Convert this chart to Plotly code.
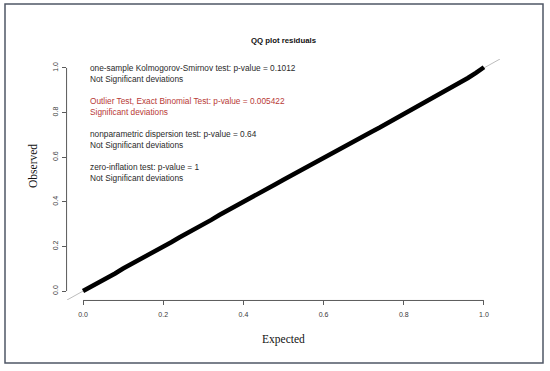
import plotly.graph_objects as go

# Data
expected = [0.00, 0.02, 0.04, 0.06, 0.08, 0.10, 0.12, 0.14, 0.16, 0.18,
            0.20, 0.22, 0.24, 0.26, 0.28, 0.30, 0.32, 0.34, 0.36, 0.38,
            0.40, 0.42, 0.44, 0.46, 0.48, 0.50, 0.52, 0.54, 0.56, 0.58,
            0.60, 0.62, 0.64, 0.66, 0.68, 0.70, 0.72, 0.74, 0.76, 0.78,
            0.80, 0.82, 0.84, 0.86, 0.88, 0.90, 0.92, 0.94, 0.96, 0.98, 1.00]
observed = [0.000, 0.019, 0.041, 0.060, 0.079, 0.101, 0.120, 0.139, 0.160, 0.181,
            0.200, 0.219, 0.240, 0.259, 0.281, 0.300, 0.319, 0.341, 0.360, 0.379,
            0.399, 0.420, 0.439, 0.458, 0.479, 0.499, 0.519, 0.538, 0.557, 0.577,
            0.596, 0.616, 0.635, 0.655, 0.674, 0.694, 0.714, 0.733, 0.753, 0.773,
            0.792, 0.812, 0.832, 0.852, 0.872, 0.892, 0.913, 0.933, 0.955, 0.978, 1.003]
ref_line = [-0.04, 1.04]
tick_vals = [0.0, 0.2, 0.4, 0.6, 0.8, 1.0]
tick_text = ["0.0", "0.2", "0.4", "0.6", "0.8", "1.0"]

test_lines = [
    ("one-sample Kolmogorov-Smirnov test: p-value = 0.1012", "#2a2a2a"),
    ("Not Significant deviations", "#2a2a2a"),
    ("Outlier Test, Exact Binomial Test: p-value = 0.005422", "#b83a36"),
    ("Significant deviations", "#b83a36"),
    ("nonparametric dispersion test: p-value = 0.64", "#2a2a2a"),
    ("Not Significant deviations", "#2a2a2a"),
    ("zero-inflation test: p-value = 1", "#2a2a2a"),
    ("Not Significant deviations", "#2a2a2a"),
]
text_y_px = [68, 79, 101, 112, 134, 145, 167, 178]

AX_MIN, AX_MAX = -0.04, 1.04
W, H = 550, 371
L, R, T, B = 67, 50, 59, 71
pw, ph = W - L - R, H - T - B

def px_x(x):
    return (x - L) / pw

def px_y(y):
    return (H - B - y) / ph

def frac(v):
    return (v - AX_MIN) / (AX_MAX - AX_MIN)

fig = go.Figure()
fig.add_trace(go.Scatter(x=ref_line, y=ref_line, mode="lines",
                         line=dict(color="#bdbdbd", width=1), hoverinfo="skip"))
fig.add_trace(go.Scatter(x=expected, y=observed, mode="lines",
                         line=dict(color="#000000", width=4.5), hoverinfo="skip"))

annotations = []
for (txt, col), ypx in zip(test_lines, text_y_px):
    annotations.append(dict(text=txt, x=px_x(88), y=px_y(ypx), xref="paper", yref="paper",
                            xanchor="left", yanchor="middle", showarrow=False,
                            font=dict(family="Liberation Sans", size=8.3, color=col)))
annotations.append(dict(text="<b>QQ plot residuals</b>", x=px_x(283.5), y=px_y(40),
                        xref="paper", yref="paper", xanchor="center", yanchor="middle",
                        showarrow=False, font=dict(family="Liberation Sans", size=7.8, color="#111")))
annotations.append(dict(text="Expected", x=px_x(283.5), y=px_y(339), xref="paper", yref="paper",
                        xanchor="center", yanchor="middle", showarrow=False,
                        font=dict(family="Liberation Serif", size=11.5, color="#111")))
annotations.append(dict(text="Observed", x=px_x(33), y=px_y(166), xref="paper", yref="paper",
                        xanchor="center", yanchor="middle", showarrow=False, textangle=-90,
                        font=dict(family="Liberation Serif", size=11.5, color="#111")))

shapes = [
    dict(type="line", xref="paper", yref="paper", x0=frac(tick_vals[0]), x1=frac(tick_vals[-1]),
         y0=-0.002, y1=-0.002, layer="above", line=dict(color="#5a5a5a", width=1)),
    dict(type="line", xref="paper", yref="paper", x0=-0.001, x1=-0.001,
         y0=frac(tick_vals[0]), y1=frac(tick_vals[-1]), layer="above",
         line=dict(color="#5a5a5a", width=1)),
    dict(type="rect", xref="paper", yref="paper",
         x0=px_x(5), x1=px_x(543), y0=px_y(363), y1=px_y(4),
         line=dict(color="#4f5766", width=1.5)),
]

axis_common = dict(range=[AX_MIN, AX_MAX], showgrid=False, zeroline=False, showline=False,
                   ticks="outside", ticklen=4, tickcolor="#5a5a5a", tickwidth=1,
                   tickvals=tick_vals, ticktext=tick_text,
                   tickfont=dict(family="Liberation Sans", size=7, color="#3a3a3a"))

fig.update_layout(
    width=W, height=H,
    margin=dict(l=L, r=R, t=T, b=B),
    paper_bgcolor="white", plot_bgcolor="white",
    showlegend=False,
    xaxis=dict(**axis_common, ticklabelstandoff=4),
    yaxis=dict(**axis_common, tickangle=-90, ticklabelstandoff=1),
    annotations=annotations,
    shapes=shapes,
)

fig.write_html("out.html", config={"displayModeBar": False},
               post_script="document.body.style.margin='0';document.body.style.overflow='hidden';")
